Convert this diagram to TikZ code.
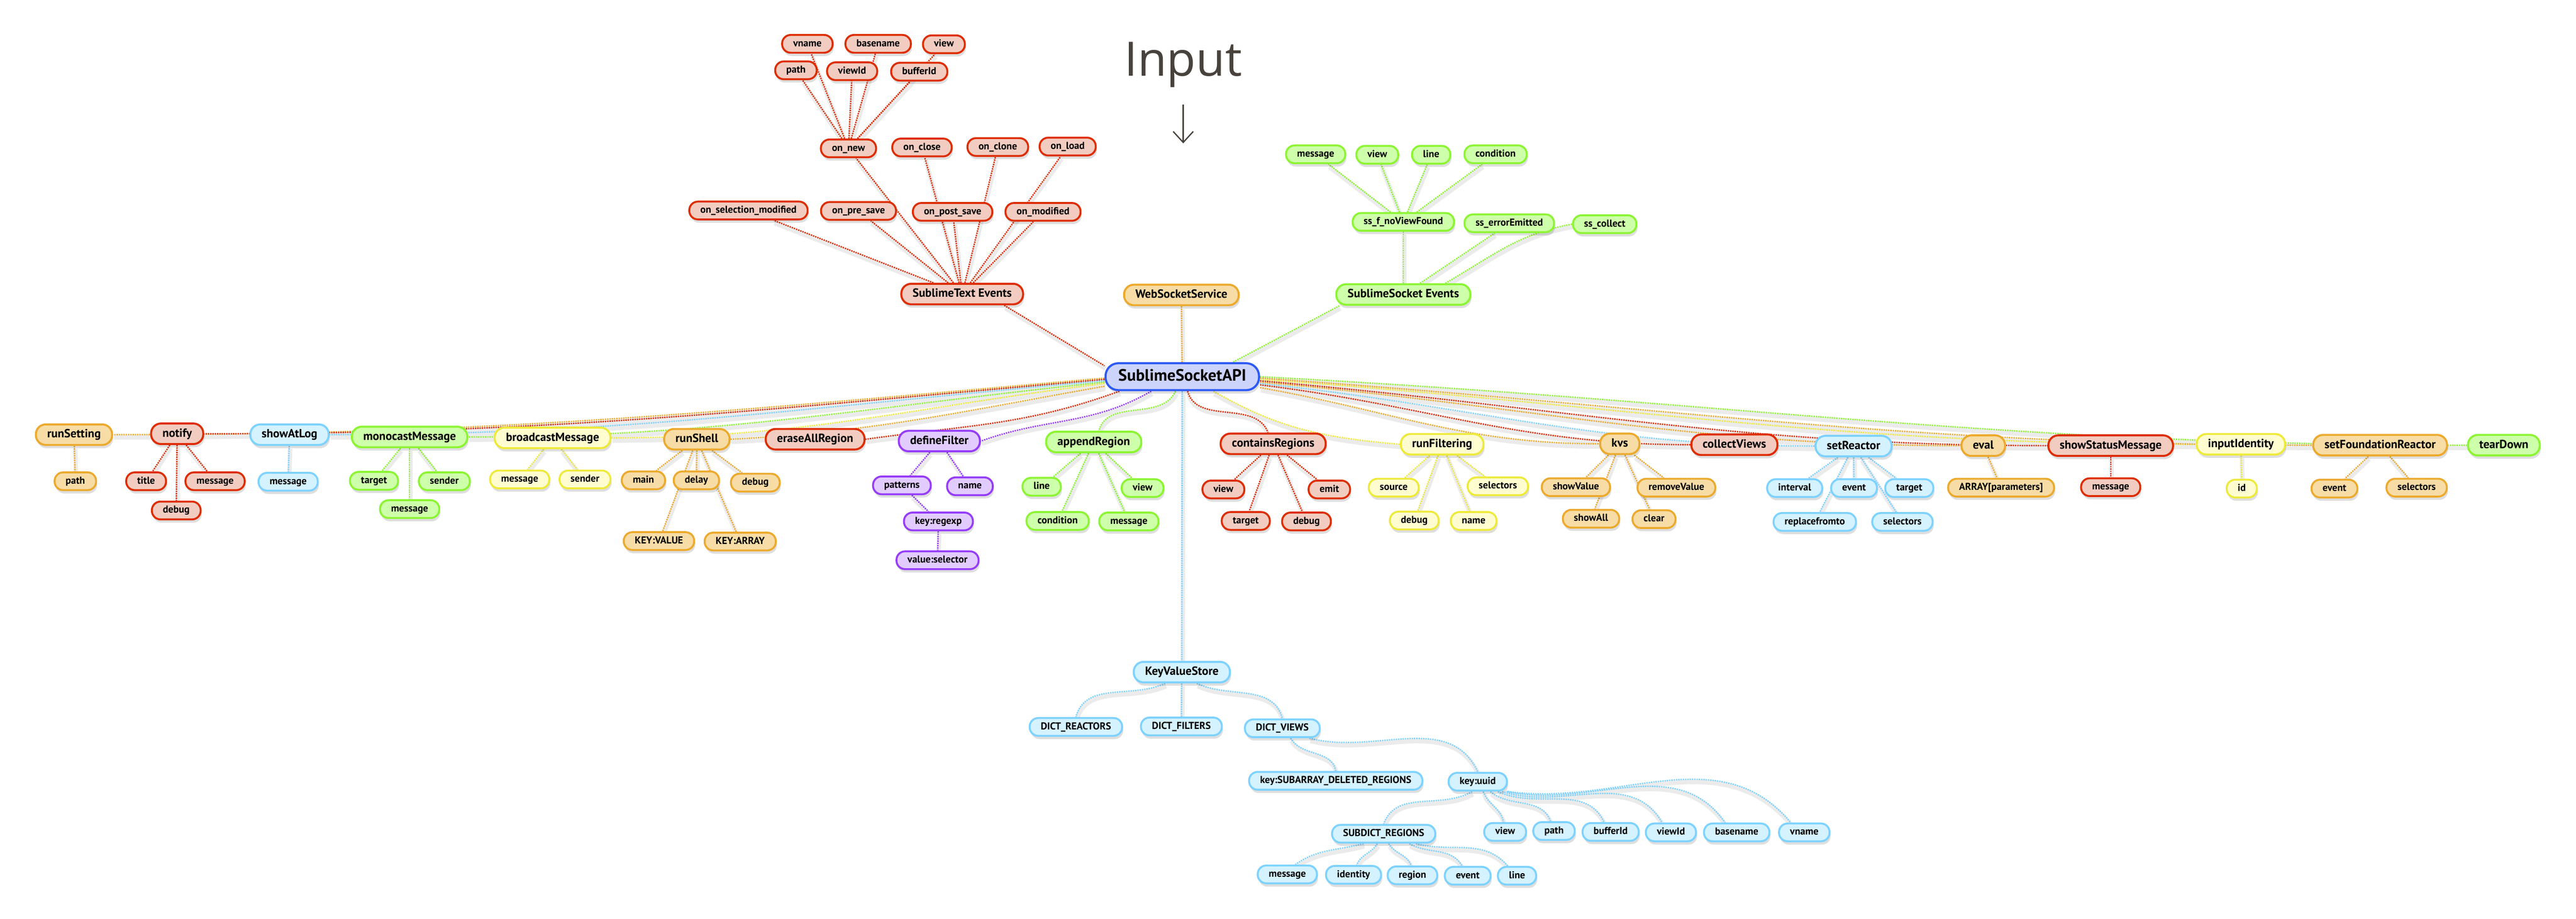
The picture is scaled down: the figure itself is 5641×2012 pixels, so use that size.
\documentclass[tikz,border=0pt]{standalone}
\usepackage{fontspec}
\setmainfont{PT Sans}
\newfontfamily\inputfont{Open Sans}
\usetikzlibrary{shadows,arrows.meta}
\pgfdeclarelayer{bglayer}
\pgfdeclarelayer{shadelayer}
\pgfdeclarelayer{linelayer}
\pgfsetlayers{bglayer,shadelayer,linelayer,main}
\definecolor{redB}{RGB}{222,45,0}
\definecolor{redF}{RGB}{242,204,192}
\definecolor{orB}{RGB}{236,170,45}
\definecolor{orF}{RGB}{247,220,166}
\definecolor{blB}{RGB}{125,210,255}
\definecolor{blF}{RGB}{212,242,255}
\definecolor{grB}{RGB}{140,245,50}
\definecolor{grF}{RGB}{206,255,170}
\definecolor{yeB}{RGB}{238,234,60}
\definecolor{yeF}{RGB}{255,253,208}
\definecolor{puB}{RGB}{150,60,250}
\definecolor{puF}{RGB}{226,204,255}
\definecolor{apB}{RGB}{45,90,245}
\definecolor{apF}{RGB}{205,212,252}
\definecolor{inputC}{RGB}{72,66,60}
\tikzset{
  nd/.style={rectangle, inner ysep=0pt, text=black,
    drop shadow={shadow xshift=0.6pt, shadow yshift=-1.8pt, fill=black, opacity=0.13}},
  sm/.style={nd, inner xsep=6.05pt, rounded corners=4.7pt, minimum height=9.75pt, line width=1.05pt,
    font=\bfseries\fontsize{5.5pt}{6pt}\selectfont, text height=4pt, text depth=1.2pt},
  md/.style={nd, inner xsep=6.2pt, rounded corners=5.4pt, minimum height=11.25pt, line width=1.1pt,
    font=\bfseries\fontsize{6.5pt}{7pt}\selectfont, text height=4.8pt, text depth=1.4pt},
  ap/.style={nd, inner xsep=7pt, rounded corners=7pt, minimum height=14.75pt, line width=1.15pt,
    font=\bfseries\fontsize{9pt}{10pt}\selectfont, text height=6.6pt, text depth=1.9pt},
  R/.style={draw=redB, fill=redF},
  O/.style={draw=orB, fill=orF},
  B/.style={draw=blB, fill=blF},
  G/.style={draw=grB, fill=grF},
  Y/.style={draw=yeB, fill=yeF},
  P/.style={draw=puB, fill=puF},
  A/.style={draw=apB, fill=apF},
  cline/.style={draw=#1, line width=0.75pt, dash pattern=on 0.75pt off 0.5pt},
  cshadow/.style={draw=black!8, line width=2.4pt, transform canvas={shift={(0.5pt,-1.5pt)}}}
}
\newcommand{\lnk}[2]{%
  \begin{pgfonlayer}{shadelayer}\draw[cshadow] #2;\end{pgfonlayer}%
  \begin{pgfonlayer}{linelayer}\draw[cline=#1] #2;\end{pgfonlayer}}
\begin{document}
\begin{tikzpicture}[x=0.25pt,y=0.25pt]
\begin{pgfonlayer}{bglayer}
\fill[white] (0,0) rectangle (5641,-2012);
\end{pgfonlayer}
\useasboundingbox (0,0) rectangle (5641,-2012);

% title
\node[font=\inputfont\fontsize{26pt}{30pt}\selectfont, text=inputC, anchor=base, inner sep=0pt] (input) at (2591,-166) {Input};
\coordinate (arT) at (2591,-229);
\coordinate (arB) at (2591,-314);
\draw[inputC, line width=0.7pt, -{Straight Barb[length=6pt,width=11pt]}] (arT) -- (arB);

% top red cluster
\node[sm,R] (vname) at (1768,-96) {vname};
\node[sm,R] (basename) at (1923,-96) {basename};
\node[sm,R] (view1) at (2067,-97) {view};
\node[sm,R] (path1) at (1743,-154) {path};
\node[sm,R] (viewId1) at (1866,-156) {viewId};
\node[sm,R] (bufferId1) at (2013,-157) {bufferId};
\node[sm,R] (onnew) at (1858,-325) {on\_new};
\node[sm,R] (onclose) at (2019,-323) {on\_close};
\node[sm,R] (onclone) at (2185,-322) {on\_clone};
\node[sm,R] (onload) at (2338,-321) {on\_load};
\node[sm,R] (onselmod) at (1639,-461) {on\_selection\_modified};
\node[sm,R] (onpresave) at (1880,-462) {on\_pre\_save};
\node[sm,R] (onpostsave) at (2086,-464) {on\_post\_save};
\node[sm,R] (onmodified) at (2284,-464) {on\_modified};
\node[md,R] (ste) at (2107,-644) {SublimeText Events};

% top green cluster
\node[sm,G] (gmsg) at (2881,-338) {message};
\node[sm,G] (gview) at (3016,-339) {view};
\node[sm,G] (gline) at (3134,-339) {line};
\node[sm,G] (gcond) at (3275,-338) {condition};
\node[sm,G] (ssf) at (3073,-486) {ss\_f\_noViewFound};
\node[sm,G] (sserr) at (3305,-489) {ss\_errorEmitted};
\node[sm,G] (sscol) at (3514,-491) {ss\_collect};
\node[md,G] (sse) at (3073,-645) {SublimeSocket Events};
\node[md,O] (wss) at (2587,-646) {WebSocketService};
\node[ap,A] (api) at (2589,-825) {SublimeSocketAPI};

% main row
\node[md,O] (runSetting) at (162,-952) {runSetting};
\node[md,R] (notify) at (388,-950) {notify};
\node[md,B] (showAtLog) at (634,-952) {showAtLog};
\node[md,G] (monocast) at (897,-957) {monocastMessage};
\node[md,Y] (broadcast) at (1210,-959) {broadcastMessage};
\node[md,O] (runShell) at (1526,-962) {runShell};
\node[md,R] (erase) at (1785,-962) {eraseAllRegion};
\node[md,P] (defineFilter) at (2057,-966) {defineFilter};
\node[md,G] (appendRegion) at (2395,-968) {appendRegion};
\node[md,R] (containsRegions) at (2788,-972) {containsRegions};
\node[md,Y] (runFiltering) at (3158,-973) {runFiltering};
\node[md,O] (kvs) at (3547,-972) {kvs};
\node[md,R] (collectViews) at (3798,-974) {collectViews};
\node[md,B] (setReactor) at (4059,-977) {setReactor};
\node[md,O] (eval) at (4343,-976) {eval};
\node[md,R] (ssm) at (4622,-976) {showStatusMessage};
\node[md,Y] (inputIdentity) at (4907,-973) {inputIdentity};
\node[md,O] (sfr) at (5212,-975) {setFoundationReactor};
\node[md,G] (tearDown) at (5483,-975) {tearDown};

% row children
\node[sm,O] (rsPath) at (165,-1054) {path};
\node[sm,R] (nTitle) at (320,-1054) {title};
\node[sm,R] (nMessage) at (471,-1054) {message};
\node[sm,R] (nDebug) at (386,-1118) {debug};
\node[sm,B] (salMessage) at (631,-1055) {message};
\node[sm,G] (mmTarget) at (819,-1053) {target};
\node[sm,G] (mmSender) at (973,-1054) {sender};
\node[sm,G] (mmMessage) at (897,-1115) {message};
\node[sm,Y] (bmMessage) at (1138,-1050) {message};
\node[sm,Y] (bmSender) at (1281,-1050) {sender};
\node[sm,O] (rshMain) at (1409,-1052) {main};
\node[sm,O] (rshDelay) at (1525,-1052) {delay};
\node[sm,O] (rshDebug) at (1654,-1057) {debug};
\node[sm,O] (rshKV) at (1443,-1185) {KEY:VALUE};
\node[sm,O] (rshKA) at (1621,-1186) {KEY:ARRAY};
\node[sm,P] (dfPatterns) at (1975,-1063) {patterns};
\node[sm,P] (dfName) at (2124,-1065) {name};
\node[sm,P] (dfKeyRegexp) at (2055,-1142) {key:regexp};
\node[sm,P] (dfValSel) at (2053,-1227) {value:selector};
\node[sm,G] (arLine) at (2281,-1066) {line};
\node[sm,G] (arView) at (2502,-1069) {view};
\node[sm,G] (arCondition) at (2316,-1141) {condition};
\node[sm,G] (arMessage) at (2472,-1142) {message};
\node[sm,R] (crView) at (2679,-1072) {view};
\node[sm,R] (crEmit) at (2911,-1072) {emit};
\node[sm,R] (crTarget) at (2728,-1141) {target};
\node[sm,R] (crDebug) at (2861,-1142) {debug};
\node[sm,Y] (rfSource) at (3052,-1068) {source};
\node[sm,Y] (rfSelectors) at (3280,-1065) {selectors};
\node[sm,Y] (rfDebug) at (3097,-1140) {debug};
\node[sm,Y] (rfName) at (3227,-1141) {name};
\node[sm,O] (kvShowValue) at (3451,-1067) {showValue};
\node[sm,O] (kvRemoveValue) at (3671,-1068) {removeValue};
\node[sm,O] (kvShowAll) at (3484,-1136) {showAll};
\node[sm,O] (kvClear) at (3622,-1137) {clear};
\node[sm,B] (srInterval) at (3930,-1069) {interval};
\node[sm,B] (srEvent) at (4060,-1069) {event};
\node[sm,B] (srTarget) at (4181,-1069) {target};
\node[sm,B] (srReplace) at (3974,-1143) {replacefromto};
\node[sm,B] (srSelectors) at (4166,-1143) {selectors};
\node[sm,O] (evArray) at (4382,-1068) {ARRAY[parameters]};
\node[sm,R] (ssmMessage) at (4622,-1067) {message};
\node[sm,Y] (iiId) at (4909,-1070) {id};
\node[sm,O] (sfrEvent) at (5112,-1070) {event};
\node[sm,O] (sfrSelectors) at (5292,-1068) {selectors};

% key value store
\node[md,B] (kvstore) at (2588,-1472) {KeyValueStore};
\node[sm,B] (dReact) at (2356,-1592) {DICT\_REACTORS};
\node[sm,B] (dFilt) at (2587,-1591) {DICT\_FILTERS};
\node[sm,B] (dViews) at (2808,-1595) {DICT\_VIEWS};
\node[sm,B] (subArr) at (2925,-1710) {key:SUBARRAY\_DELETED\_REGIONS};
\node[sm,B] (kUuid) at (3236,-1712) {key:uuid};
\node[sm,B] (subDict) at (3030,-1826) {SUBDICT\_REGIONS};
\node[sm,B] (uView) at (3296,-1822) {view};
\node[sm,B] (uPath) at (3403,-1820) {path};
\node[sm,B] (uBufferId) at (3527,-1822) {bufferId};
\node[sm,B] (uViewId) at (3659,-1823) {viewId};
\node[sm,B] (uBasename) at (3803,-1823) {basename};
\node[sm,B] (uVname) at (3951,-1823) {vname};
\node[sm,B] (sdMessage) at (2819,-1915) {message};
\node[sm,B] (sdIdentity) at (2964,-1916) {identity};
\node[sm,B] (sdRegion) at (3093,-1917) {region};
\node[sm,B] (sdEvent) at (3214,-1918) {event};
\node[sm,B] (sdLine) at (3322,-1918) {line};

% ===== connectors =====
% red cluster
\lnk{redB}{(onnew) -- (path1)}
\lnk{redB}{(onnew) -- (vname)}
\lnk{redB}{(onnew) -- (viewId1)}
\lnk{redB}{(onnew) -- (basename)}
\lnk{redB}{(onnew) -- (bufferId1)}
\lnk{redB}{(onnew) -- (view1)}
\lnk{redB}{(ste) -- (onselmod)}
\lnk{redB}{(ste) -- (onpresave)}
\lnk{redB}{(ste) -- (onnew)}
\lnk{redB}{(ste) -- (onclose)}
\lnk{redB}{(ste) -- (onclone)}
\lnk{redB}{(ste) -- (onload)}
\lnk{redB}{(ste) -- (onpostsave)}
\lnk{redB}{(ste) -- (onmodified)}
\lnk{redB}{(ste.-15) -- (api.172)}
% green cluster
\lnk{grB}{(ssf) -- (gmsg)}
\lnk{grB}{(ssf) -- (gview)}
\lnk{grB}{(ssf) -- (gline)}
\lnk{grB}{(ssf) -- (gcond)}
\lnk{grB}{(sse) -- (ssf)}
\lnk{grB}{(sse) -- (sserr)}
\lnk{grB}{(sse.15) to[out=30,in=190] (sscol.west)}
\lnk{grB}{(sse.190) -- (api.16)}
\lnk{orB}{(wss) -- (api)}
\lnk{blB}{(api) -- (kvstore)}
% api to row, left
\lnk{orB}{(api.181) to[out=185,in=0] (runSetting.east)}
\lnk{redB}{(api.182) to[out=185,in=0] (notify.east)}
\lnk{blB}{(api.183) to[out=185,in=0] (showAtLog.east)}
\lnk{grB}{(api.184) to[out=186,in=0] (monocast.east)}
\lnk{yeB}{(api.185) to[out=187,in=0] (broadcast.east)}
\lnk{orB}{(api.187) to[out=190,in=3] (runShell.east)}
\lnk{redB}{(api.193) to[out=200,in=8] (erase.east)}
\lnk{puB}{(api.205) to[out=210,in=20] (defineFilter.east)}
\lnk{grB}{(api.245) to[out=245,in=75] (appendRegion.65)}
% api to row, right
\lnk{redB}{(api.-70) to[out=-75,in=110] (containsRegions.115)}
\lnk{yeB}{(api.-25) to[out=-30,in=175] (runFiltering.west)}
\lnk{orB}{(api.-8) to[out=-10,in=180] (kvs.west)}
\lnk{redB}{(api.-6) to[out=-7,in=180] (collectViews.west)}
\lnk{blB}{(api.-5) to[out=-6,in=180] (setReactor.west)}
\lnk{orB}{(api.-4) to[out=-5,in=180] (eval.west)}
\lnk{redB}{(api.-3) to[out=-5,in=180] (ssm.west)}
\lnk{yeB}{(api.-2) to[out=-4,in=180] (inputIdentity.west)}
\lnk{orB}{(api.-1) to[out=-4,in=180] (sfr.west)}
\lnk{grB}{(api.0) to[out=-3,in=180] (tearDown.west)}
% row children
\lnk{orB}{(runSetting) -- (rsPath)}
\lnk{redB}{(notify) -- (nTitle)}
\lnk{redB}{(notify) -- (nMessage)}
\lnk{redB}{(notify) -- (nDebug)}
\lnk{blB}{(showAtLog) -- (salMessage)}
\lnk{grB}{(monocast) -- (mmTarget)}
\lnk{grB}{(monocast) -- (mmSender)}
\lnk{grB}{(monocast) -- (mmMessage)}
\lnk{yeB}{(broadcast) -- (bmMessage)}
\lnk{yeB}{(broadcast) -- (bmSender)}
\lnk{orB}{(runShell) -- (rshMain)}
\lnk{orB}{(runShell) -- (rshDelay)}
\lnk{orB}{(runShell) -- (rshDebug)}
\lnk{orB}{(runShell) -- (rshKV)}
\lnk{orB}{(runShell) -- (rshKA)}
\lnk{puB}{(defineFilter) -- (dfPatterns)}
\lnk{puB}{(defineFilter) -- (dfName)}
\lnk{puB}{(dfPatterns) -- (dfKeyRegexp)}
\lnk{puB}{(dfKeyRegexp) -- (dfValSel)}
\lnk{grB}{(appendRegion) -- (arLine)}
\lnk{grB}{(appendRegion) -- (arCondition)}
\lnk{grB}{(appendRegion) -- (arMessage)}
\lnk{grB}{(appendRegion) -- (arView)}
\lnk{redB}{(containsRegions) -- (crView)}
\lnk{redB}{(containsRegions) -- (crTarget)}
\lnk{redB}{(containsRegions) -- (crDebug)}
\lnk{redB}{(containsRegions) -- (crEmit)}
\lnk{yeB}{(runFiltering) -- (rfSource)}
\lnk{yeB}{(runFiltering) -- (rfDebug)}
\lnk{yeB}{(runFiltering) -- (rfName)}
\lnk{yeB}{(runFiltering) -- (rfSelectors)}
\lnk{orB}{(kvs) -- (kvShowValue)}
\lnk{orB}{(kvs) -- (kvShowAll)}
\lnk{orB}{(kvs) -- (kvRemoveValue)}
\lnk{orB}{(kvs) -- (kvClear)}
\lnk{blB}{(setReactor) -- (srInterval)}
\lnk{blB}{(setReactor) -- (srReplace)}
\lnk{blB}{(setReactor) -- (srEvent)}
\lnk{blB}{(setReactor) -- (srSelectors)}
\lnk{blB}{(setReactor) -- (srTarget)}
\lnk{orB}{(eval) -- (evArray)}
\lnk{redB}{(ssm) -- (ssmMessage)}
\lnk{yeB}{(inputIdentity) -- (iiId)}
\lnk{orB}{(sfr) -- (sfrEvent)}
\lnk{orB}{(sfr) -- (sfrSelectors)}
% key value store tree
\lnk{blB}{(kvstore.214) to[out=205,in=75] (dReact.north)}
\lnk{blB}{(kvstore) -- (dFilt)}
\lnk{blB}{(kvstore.-37) to[out=-25,in=105] (dViews.north)}
\lnk{blB}{(dViews.-50) to[out=-60,in=100] (subArr.north)}
\lnk{blB}{(dViews.-20) to[out=-15,in=115] (kUuid.north)}
\lnk{blB}{(kUuid.240) to[out=210,in=70] (subDict.north)}
\lnk{blB}{(kUuid.-61) to[out=-70,in=100] (uView.100)}
\lnk{blB}{(kUuid.-38) to[out=-40,in=110] (uPath.110)}
\lnk{blB}{(kUuid.-26) to[out=-25,in=115] (uBufferId.124)}
\lnk{blB}{(kUuid.-22) to[out=-18,in=120] (uViewId.132)}
\lnk{blB}{(kUuid.-19.5) to[out=-12,in=125] (uBasename.140)}
\lnk{blB}{(kUuid.-18.7) to[out=-8,in=130] (uVname.144)}
\lnk{blB}{(subDict.206) to[out=195,in=35] (sdMessage.51)}
\lnk{blB}{(subDict.237) to[out=240,in=70] (sdIdentity.72)}
\lnk{blB}{(subDict.-63) to[out=-60,in=110] (sdRegion.98)}
\lnk{blB}{(subDict.-21) to[out=-30,in=120] (sdEvent.120)}
\lnk{blB}{(subDict.-17.4) to[out=-15,in=130] (sdLine.134)}
\end{tikzpicture}
\end{document}
